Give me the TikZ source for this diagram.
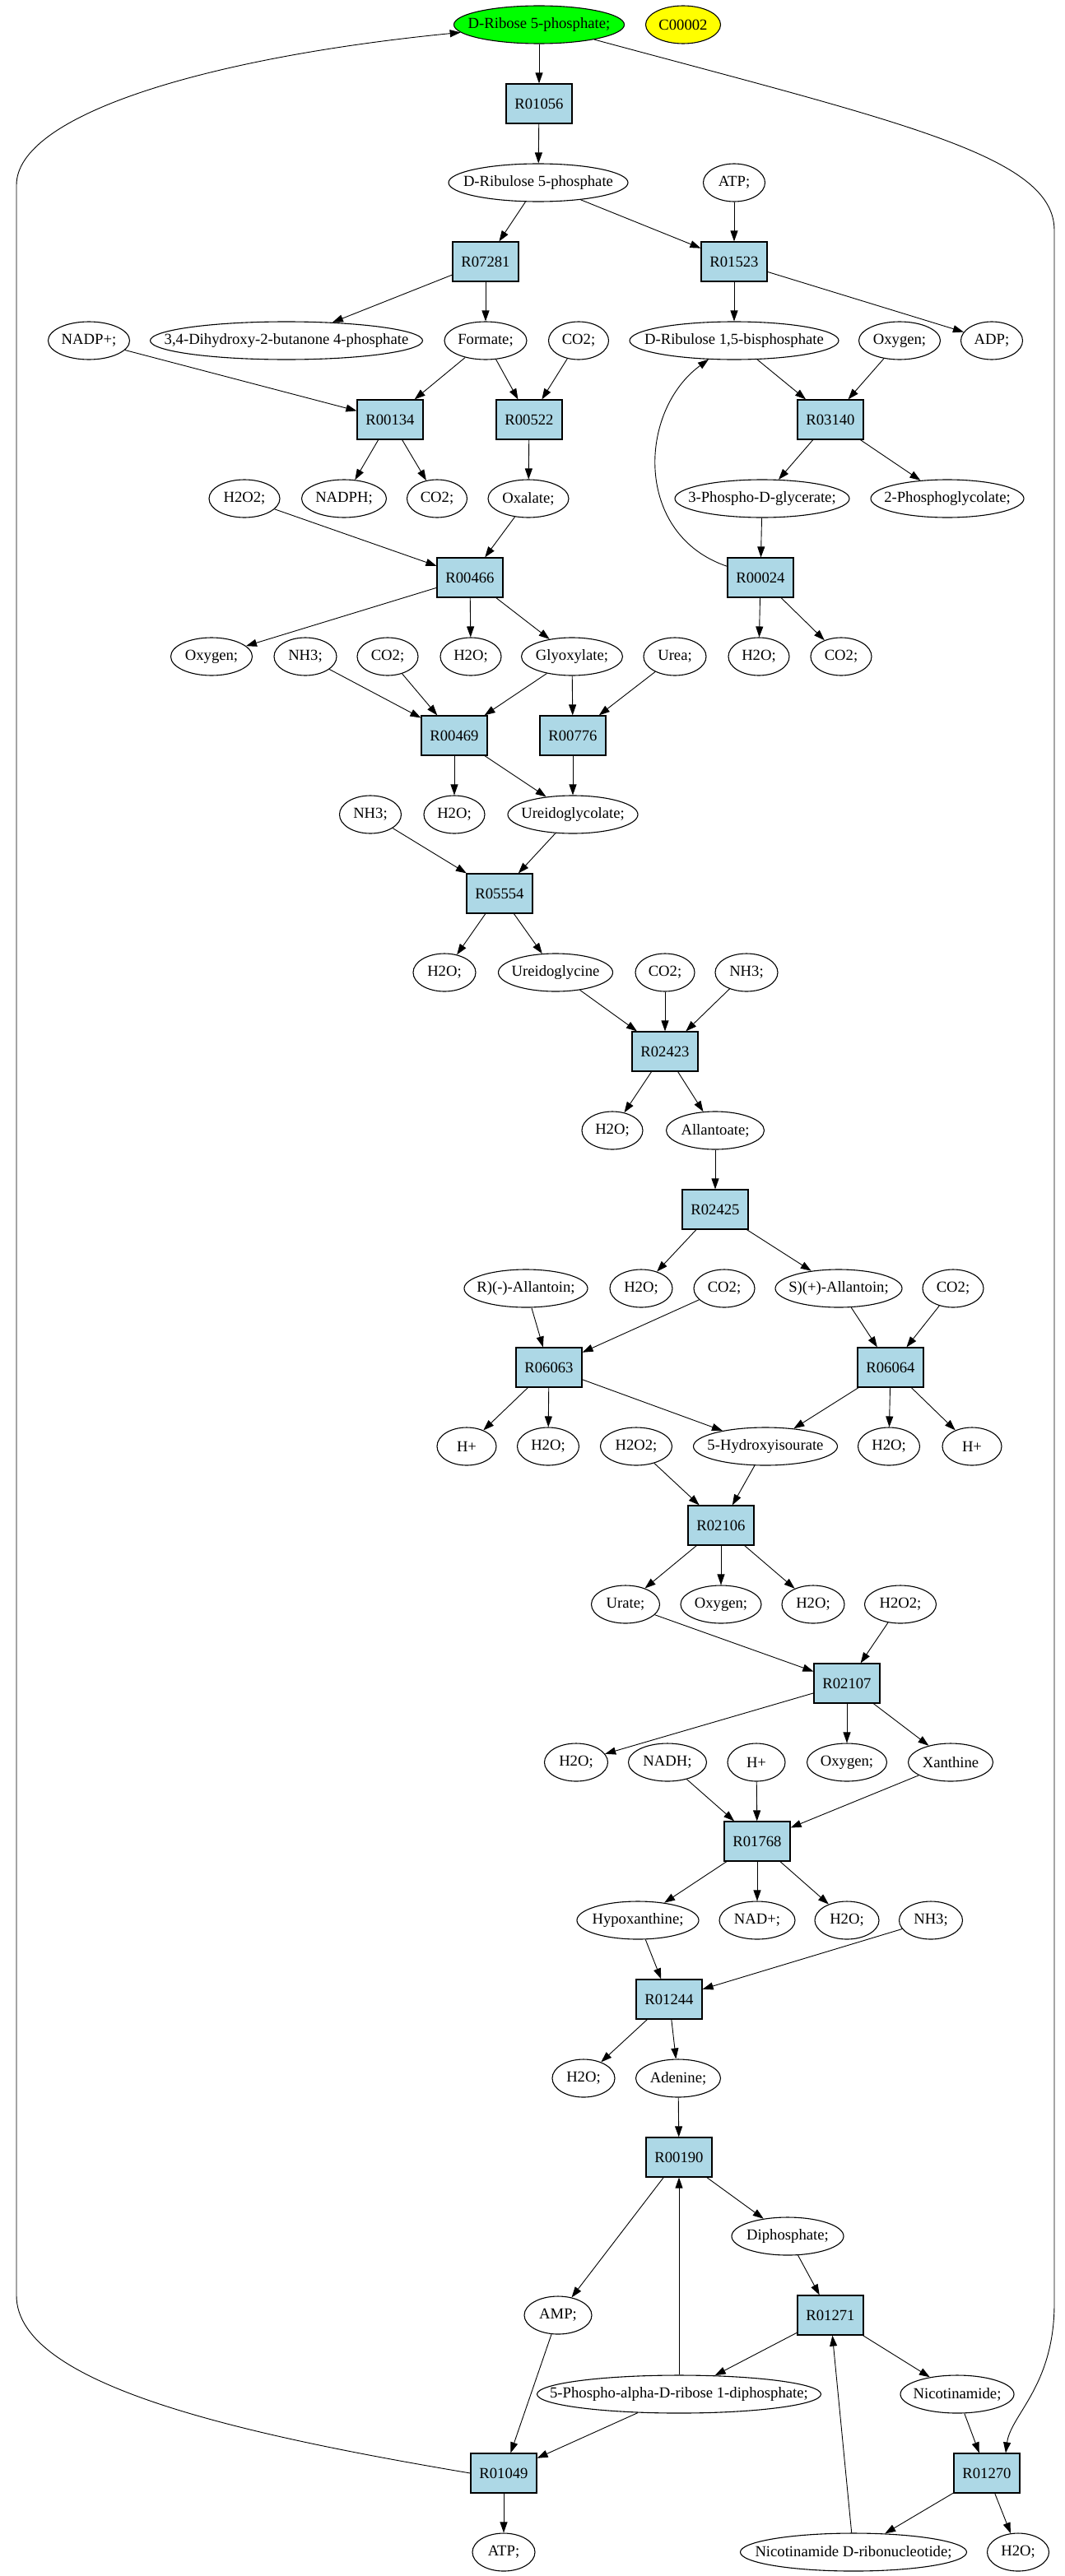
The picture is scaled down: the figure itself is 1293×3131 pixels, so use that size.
\documentclass[tikz,border=0pt]{standalone}
\usepackage{fontspec}
\setmainfont{Liberation Serif}
\usepackage{xcolor}
\usetikzlibrary{arrows.meta}
\usetikzlibrary{shapes}
\definecolor{rxnblue}{RGB}{173,216,230}
\definecolor{startgreen}{RGB}{0,255,0}
\definecolor{mapyellow}{RGB}{255,255,0}

\begin{document}
\begin{tikzpicture}[x=1pt, y=-1pt,
	font=\fontsize{18.67}{22}\selectfont,
	rxn/.style={rectangle, draw, fill=rxnblue, line width=1.2pt, minimum width=80, minimum height=48, inner sep=0pt},
	cpd/.style={ellipse, draw, line width=1.1pt, minimum height=46, inner xsep=-500pt, inner ysep=0pt},
	arr/.style={-{Triangle[length=13pt,width=9pt]}, line width=0.9pt}]
	\useasboundingbox (0,0) rectangle (1293,3131);
	\fill[white] (0,0) rectangle (1293,3131);
	% top
	\node[cpd, fill=startgreen, minimum width=207] (dr5p) at (655,30) {D-Ribose 5-phosphate;};
	\node[cpd, fill=mapyellow, minimum width=91] (c00002) at (830,30) {C00002};
	\node[rxn] (r01056) at (655,126) {R01056};
	\node[cpd, minimum width=218] (dru5p) at (654,222) {D-Ribulose 5-phosphate};
	\node[cpd, minimum width=75] (atpA) at (892,222) {ATP;};
	\node[rxn] (r07281) at (590,318) {R07281};
	\node[rxn] (r01523) at (892,318) {R01523};
	\node[cpd, minimum width=99] (nadpp) at (108,414) {NADP+;};
	\node[cpd, minimum width=331] (dhbp) at (348,414) {3,4-Dihydroxy-2-butanone 4-phosphate};
	\node[cpd, minimum width=100] (formate) at (590,414) {Formate;};
	\node[cpd, minimum width=73] (co2A) at (703,414) {CO2;};
	\node[cpd, minimum width=254] (rubp) at (892,414) {D-Ribulose 1,5-bisphosphate};
	\node[cpd, minimum width=99] (oxyA) at (1093,414) {Oxygen;};
	\node[cpd, minimum width=75] (adp) at (1205,414) {ADP;};
	\node[rxn] (r00134) at (474,510) {R00134};
	\node[rxn] (r00522) at (643,510) {R00522};
	\node[rxn] (r03140) at (1009,510) {R03140};
	\node[cpd, minimum width=86] (h2o2A) at (297,606) {H2O2;};
	\node[cpd, minimum width=103] (nadph) at (418,606) {NADPH;};
	\node[cpd, minimum width=73] (co2B) at (531,606) {CO2;};
	\node[cpd, minimum width=98] (oxalate) at (642,606) {Oxalate;};
	\node[cpd, minimum width=212] (pga) at (926,606) {3-Phospho-D-glycerate;};
	\node[cpd, minimum width=186] (pgly) at (1151,606) {2-Phosphoglycolate;};
	\node[rxn] (r00466) at (571,702) {R00466};
	\node[rxn] (r00024) at (924,702) {R00024};
	\node[cpd, minimum width=99] (oxyB) at (257,798) {Oxygen;};
	\node[cpd, minimum width=76] (nh3A) at (371,798) {NH3;};
	\node[cpd, minimum width=74] (co2C) at (471,798) {CO2;};
	\node[cpd, minimum width=74] (h2oA) at (572,798) {H2O;};
	\node[cpd, minimum width=123] (glyox) at (695,798) {Glyoxylate;};
	\node[cpd, minimum width=76] (urea) at (820,798) {Urea;};
	\node[cpd, minimum width=74] (h2oB) at (922,798) {H2O;};
	\node[cpd, minimum width=74] (co2D) at (1022,798) {CO2;};
	\node[rxn] (r00469) at (552,894) {R00469};
	\node[rxn] (r00776) at (696,894) {R00776};
	\node[cpd, minimum width=75] (nh3B) at (450,990) {NH3;};
	\node[cpd, minimum width=74] (h2oC) at (552,990) {H2O;};
	\node[cpd, minimum width=158] (uglycolate) at (696,990) {Ureidoglycolate;};
	\node[rxn] (r05554) at (607,1086) {R05554};
	\node[cpd, minimum width=76] (h2oD) at (540,1182) {H2O;};
	\node[cpd, minimum width=139] (uglycine) at (675,1182) {Ureidoglycine};
	\node[cpd, minimum width=72] (co2E) at (808,1182) {CO2;};
	\node[cpd, minimum width=76] (nh3C) at (907,1182) {NH3;};
	\node[rxn] (r02423) at (808,1278) {R02423};
	\node[cpd, minimum width=74] (h2oE) at (744,1374) {H2O;};
	\node[cpd, minimum width=119] (allantoate) at (869,1374) {Allantoate;};
	\node[rxn] (r02425) at (869,1470) {R02425};
	\node[cpd, minimum width=150] (rallan) at (639,1566) {R)(-)-Allantoin;};
	\node[cpd, minimum width=76] (h2oF) at (779,1566) {H2O;};
	\node[cpd, minimum width=74] (co2F) at (880,1566) {CO2;};
	\node[cpd, minimum width=154] (sallan) at (1019,1566) {S)(+)-Allantoin;};
	\node[cpd, minimum width=74] (co2G) at (1158,1566) {CO2;};
	\node[rxn] (r06063) at (667,1662) {R06063};
	\node[rxn] (r06064) at (1082,1662) {R06064};
	\node[cpd, minimum width=72] (hpA) at (567,1758) {H+};
	\node[cpd, minimum width=75] (h2oG) at (666,1758) {H2O;};
	\node[cpd, minimum width=87] (h2o2B) at (773,1758) {H2O2;};
	\node[cpd, minimum width=175] (hiu) at (930,1758) {5-Hydroxyisourate};
	\node[cpd, minimum width=75] (h2oH) at (1080,1758) {H2O;};
	\node[cpd, minimum width=72] (hpB) at (1181,1758) {H+};
	\node[rxn] (r02106) at (876,1854) {R02106};
	\node[cpd, minimum width=83] (urate) at (760,1950) {Urate;};
	\node[cpd, minimum width=98] (oxyC) at (876,1950) {Oxygen;};
	\node[cpd, minimum width=76] (h2oI) at (988,1950) {H2O;};
	\node[cpd, minimum width=87] (h2o2C) at (1094,1950) {H2O2;};
	\node[rxn] (r02107) at (1029,2046) {R02107};
	\node[cpd, minimum width=77] (h2oJ) at (700,2142) {H2O;};
	\node[cpd, minimum width=95] (nadh) at (811,2142) {NADH;};
	\node[cpd, minimum width=70] (hpC) at (919,2142) {H+};
	\node[cpd, minimum width=97] (oxyD) at (1029,2142) {Oxygen;};
	\node[cpd, minimum width=103] (xanthine) at (1155,2142) {Xanthine};
	\node[rxn] (r01768) at (920,2238) {R01768};
	\node[cpd, minimum width=148] (hypox) at (775,2334) {Hypoxanthine;};
	\node[cpd, minimum width=92] (nadp) at (920,2334) {NAD+;};
	\node[cpd, minimum width=78] (h2oK) at (1029,2334) {H2O;};
	\node[cpd, minimum width=77] (nh3D) at (1131,2334) {NH3;};
	\node[rxn] (r01244) at (813,2430) {R01244};
	\node[cpd, minimum width=76] (h2oL) at (709,2526) {H2O;};
	\node[cpd, minimum width=103] (adenine) at (824,2526) {Adenine;};
	\node[rxn] (r00190) at (825,2622) {R00190};
	\node[cpd, minimum width=136] (diphos) at (957,2718) {Diphosphate;};
	\node[cpd, minimum width=82] (amp) at (678,2814) {AMP;};
	\node[rxn] (r01271) at (1009,2814) {R01271};
	\node[cpd, minimum width=345] (prpp) at (825,2910) {5-Phospho-alpha-D-ribose 1-diphosphate;};
	\node[cpd, minimum width=138] (nicot) at (1163,2910) {Nicotinamide;};
	\node[rxn] (r01049) at (612,3006) {R01049};
	\node[rxn] (r01270) at (1199,3006) {R01270};
	\node[cpd, minimum width=76] (atpB) at (612,3102) {ATP;};
	\node[cpd, minimum width=275] (nmn) at (1037,3102) {Nicotinamide D-ribonucleotide;};
	\node[cpd, minimum width=75] (h2oM) at (1237,3102) {H2O;};
	% R01056, R07281, R01523
	\draw[arr] (dr5p) -- (r01056);
	\draw[arr] (r01056) -- (dru5p);
	\draw[arr] (dru5p) -- (r07281);
	\draw[arr] (r07281) -- (dhbp);
	\draw[arr] (r07281) -- (formate);
	\draw[arr] (dru5p) -- (r01523);
	\draw[arr] (atpA) -- (r01523);
	\draw[arr] (r01523) -- (rubp);
	\draw[arr] (r01523) -- (adp);
	% R00134, R00522, R03140, R00024
	\draw[arr] (nadpp) -- (r00134);
	\draw[arr] (formate) -- (r00134);
	\draw[arr] (r00134) -- (nadph);
	\draw[arr] (r00134) -- (co2B);
	\draw[arr] (formate) -- (r00522);
	\draw[arr] (co2A) -- (r00522);
	\draw[arr] (r00522) -- (oxalate);
	\draw[arr] (rubp) -- (r03140);
	\draw[arr] (oxyA) -- (r03140);
	\draw[arr] (r03140) -- (pga);
	\draw[arr] (r03140) -- (pgly);
	\draw[arr] (pga) -- (r00024);
	\draw[arr] (r00024) .. controls (770,650) and (775,500) .. (rubp);
	\draw[arr] (r00024) -- (h2oB);
	\draw[arr] (r00024) -- (co2D);
	% R00466, R00469, R00776
	\draw[arr] (h2o2A) -- (r00466);
	\draw[arr] (oxalate) -- (r00466);
	\draw[arr] (r00466) -- (oxyB);
	\draw[arr] (r00466) -- (h2oA);
	\draw[arr] (r00466) -- (glyox);
	\draw[arr] (nh3A) -- (r00469);
	\draw[arr] (co2C) -- (r00469);
	\draw[arr] (glyox) -- (r00469);
	\draw[arr] (r00469) -- (h2oC);
	\draw[arr] (r00469) -- (uglycolate);
	\draw[arr] (glyox) -- (r00776);
	\draw[arr] (urea) -- (r00776);
	\draw[arr] (r00776) -- (uglycolate);
	% R05554, R02423, R02425
	\draw[arr] (nh3B) -- (r05554);
	\draw[arr] (uglycolate) -- (r05554);
	\draw[arr] (r05554) -- (h2oD);
	\draw[arr] (r05554) -- (uglycine);
	\draw[arr] (uglycine) -- (r02423);
	\draw[arr] (co2E) -- (r02423);
	\draw[arr] (nh3C) -- (r02423);
	\draw[arr] (r02423) -- (h2oE);
	\draw[arr] (r02423) -- (allantoate);
	\draw[arr] (allantoate) -- (r02425);
	\draw[arr] (r02425) -- (h2oF);
	\draw[arr] (r02425) -- (sallan);
	% R06063, R06064
	\draw[arr] (rallan) -- (r06063);
	\draw[arr] (co2F) -- (r06063);
	\draw[arr] (r06063) -- (hpA);
	\draw[arr] (r06063) -- (h2oG);
	\draw[arr] (r06063) -- (hiu);
	\draw[arr] (sallan) -- (r06064);
	\draw[arr] (co2G) -- (r06064);
	\draw[arr] (r06064) -- (hiu);
	\draw[arr] (r06064) -- (h2oH);
	\draw[arr] (r06064) -- (hpB);
	% R02106, R02107
	\draw[arr] (h2o2B) -- (r02106);
	\draw[arr] (hiu) -- (r02106);
	\draw[arr] (r02106) -- (urate);
	\draw[arr] (r02106) -- (oxyC);
	\draw[arr] (r02106) -- (h2oI);
	\draw[arr] (urate) -- (r02107);
	\draw[arr] (h2o2C) -- (r02107);
	\draw[arr] (r02107) -- (h2oJ);
	\draw[arr] (r02107) -- (oxyD);
	\draw[arr] (r02107) -- (xanthine);
	% R01768, R01244
	\draw[arr] (nadh) -- (r01768);
	\draw[arr] (hpC) -- (r01768);
	\draw[arr] (xanthine) -- (r01768);
	\draw[arr] (r01768) -- (hypox);
	\draw[arr] (r01768) -- (nadp);
	\draw[arr] (r01768) -- (h2oK);
	\draw[arr] (hypox) -- (r01244);
	\draw[arr] (nh3D) -- (r01244);
	\draw[arr] (r01244) -- (h2oL);
	\draw[arr] (r01244) -- (adenine);
	% R00190, R01271
	\draw[arr] (adenine) -- (r00190);
	\draw[arr] (prpp) -- (r00190);
	\draw[arr] (r00190) -- (amp);
	\draw[arr] (r00190) -- (diphos);
	\draw[arr] (diphos) -- (r01271);
	\draw[arr] (nmn) -- (r01271);
	\draw[arr] (r01271) -- (prpp);
	\draw[arr] (r01271) -- (nicot);
	% R01049, R01270
	\draw[arr] (amp) -- (r01049);
	\draw[arr] (prpp) -- (r01049);
	\draw[arr] (r01049) -- (atpB);
	\draw[arr] (r01049.west) .. controls (300,2960) and (20,2900) .. (20,2790) -- (20,225) .. controls (20,140) and (250,70) .. (dr5p);
	\draw[arr] (nicot) -- (r01270);
	\draw[arr] (dr5p) .. controls (1100,150) and (1281,190) .. (1281,280) -- (1281,2800) .. controls (1281,2900) and (1228,2935) .. (r01270.47);
	\draw[arr] (r01270) -- (nmn);
	\draw[arr] (r01270) -- (h2oM);
\end{tikzpicture}
\end{document}
